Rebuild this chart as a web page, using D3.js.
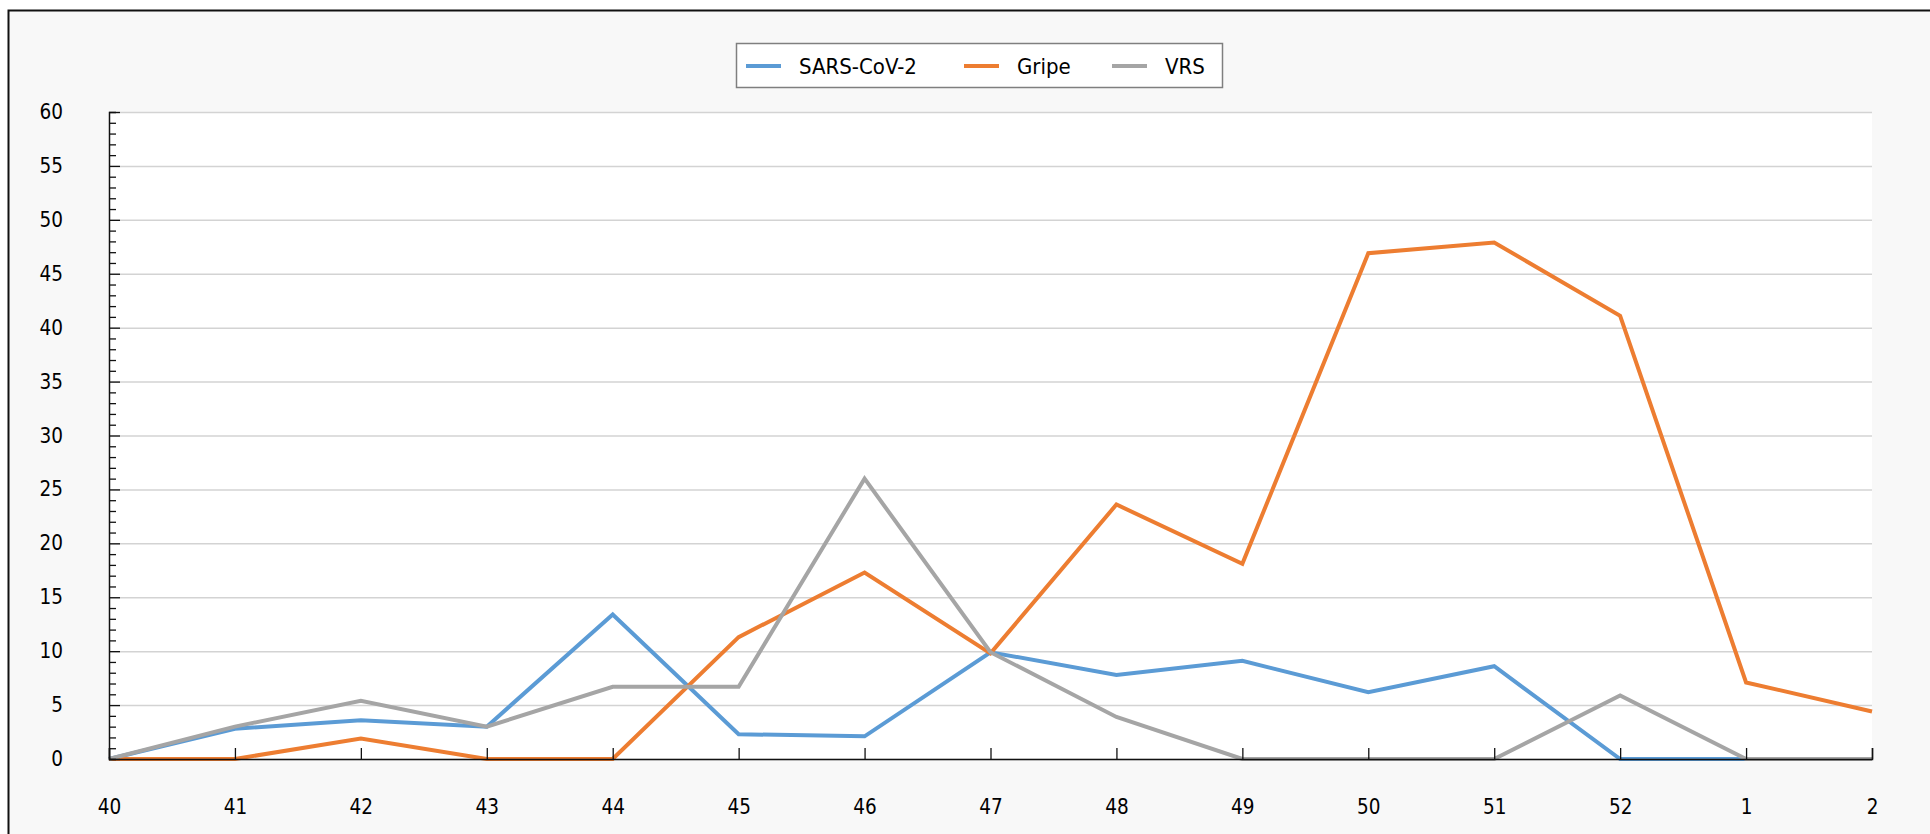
<!DOCTYPE html>
<html>
<head>
<meta charset="utf-8">
<script src="https://cdn.jsdelivr.net/npm/d3@7"></script>
<style>
  html, body { margin: 0; padding: 0; background: #ffffff; }
  svg { display: block; }
  text { font-family: "DejaVu Sans Condensed", "DejaVu Sans", sans-serif; font-stretch: condensed; fill: #000; }
</style>
</head>
<body>
<svg id="chart" width="1930" height="834"></svg>
<script>
const weeks = ["40","41","42","43","44","45","46","47","48","49","50","51","52","1","2"];
const sarsCoV2 = [0, 2.8, 3.6, 3.0, 13.4, 2.3, 2.1, 9.9, 7.8, 9.1, 6.2, 8.6, 0, 0, 0];
const gripe    = [0, 0, 1.9, 0, 0, 11.3, 17.3, 9.8, 23.6, 18.1, 46.9, 47.9, 41.1, 7.1, 4.4];
const vrs      = [0, 3.0, 5.4, 3.0, 6.7, 6.7, 26.0, 9.9, 3.9, 0, 0, 0, 5.9, 0, 0];
const seriesNames = ["SARS-CoV-2", "Gripe", "VRS"];
const seriesColors = ["#5b9bd5", "#ed7d31", "#a5a5a5"];
const yMajorTicks = [0, 5, 10, 15, 20, 25, 30, 35, 40, 45, 50, 55, 60];

const svg = d3.select("#chart");
const W = 1930, H = 834;
const plot = { left: 109, right: 1872, top: 112, bottom: 759 };

// outer frame
svg.append("rect").attr("x", 0).attr("y", 0).attr("width", W).attr("height", H).attr("fill", "#ffffff");
svg.append("rect").attr("x", 8.5).attr("y", 10.5).attr("width", W + 10).attr("height", H + 10)
  .attr("fill", "#f8f8f8").attr("stroke", "#111").attr("stroke-width", 2);

// plot background
svg.append("rect").attr("x", plot.left).attr("y", plot.top)
  .attr("width", plot.right - plot.left).attr("height", plot.bottom - plot.top).attr("fill", "#ffffff");

const x = d3.scalePoint().domain(weeks).range([plot.left, plot.right]);
const y = d3.scaleLinear().domain([0, 60]).range([plot.bottom, plot.top]);

// gridlines
svg.append("g").attr("transform", `translate(${plot.left},0)`)
  .call(d3.axisLeft(y).tickValues(yMajorTicks).tickSize(-(plot.right - plot.left)).tickFormat(""))
  .call(g => g.select(".domain").remove())
  .call(g => g.selectAll("line").attr("stroke", "#d3d3d3").attr("stroke-width", 1.5));

// series lines
const lineGen = d3.line().x((d, i) => x(weeks[i])).y(d => y(d));
[sarsCoV2, gripe, vrs].forEach((vals, k) => {
  svg.append("path").datum(vals).attr("d", lineGen)
    .attr("fill", "none").attr("stroke", seriesColors[k]).attr("stroke-width", 4)
    .attr("stroke-linejoin", "miter");
});

// y axis: minor ticks inward
const minorVals = d3.range(0, 61, 1);
svg.append("g").attr("transform", `translate(${plot.left},0)`)
  .call(d3.axisRight(y).tickValues(minorVals).tickSize(7).tickFormat(""))
  .call(g => g.select(".domain").attr("stroke", "#111").attr("stroke-width", 1.5))
  .call(g => g.selectAll(".tick line").attr("stroke", "#111").attr("stroke-width", 1.3)
    .attr("x2", d => (d % 5 === 0 ? 11 : 7)));

// y labels
svg.append("g").attr("transform", `translate(${plot.left},0)`)
  .call(d3.axisLeft(y).tickValues(yMajorTicks).tickSize(0).tickPadding(46))
  .call(g => g.select(".domain").remove())
  .call(g => g.selectAll("text").attr("font-size", 20.5).attr("fill", "#000")
    .style("font-family", "'DejaVu Sans Condensed','DejaVu Sans',sans-serif"));

// x axis ticks inward
svg.append("g").attr("transform", `translate(0,${plot.bottom})`)
  .call(d3.axisTop(x).tickSize(11).tickFormat(""))
  .call(g => g.select(".domain").attr("stroke", "#111").attr("stroke-width", 1.5))
  .call(g => g.selectAll(".tick line").attr("stroke", "#111").attr("stroke-width", 1.3));

// x labels
svg.append("g").attr("transform", `translate(0,${plot.bottom})`)
  .call(d3.axisBottom(x).tickSize(0).tickPadding(40))
  .call(g => g.select(".domain").remove())
  .call(g => g.selectAll("text").attr("font-size", 20.5).attr("fill", "#000")
    .style("font-family", "'DejaVu Sans Condensed','DejaVu Sans',sans-serif"));

// legend
const legend = svg.append("g");
legend.append("rect").attr("x", 736.5).attr("y", 43.5).attr("width", 486).attr("height", 44)
  .attr("fill", "#ffffff").attr("stroke", "#7f7f7f").attr("stroke-width", 1.5);
const legLineX = [746, 964, 1112];
seriesNames.forEach((name, k) => {
  legend.append("line").attr("x1", legLineX[k]).attr("x2", legLineX[k] + 35)
    .attr("y1", 66).attr("y2", 66).attr("stroke", seriesColors[k]).attr("stroke-width", 4);
  legend.append("text").attr("x", legLineX[k] + 53).attr("y", 66).attr("dy", "0.35em")
    .attr("font-size", 22).text(name);
});
</script>
</body>
</html>
